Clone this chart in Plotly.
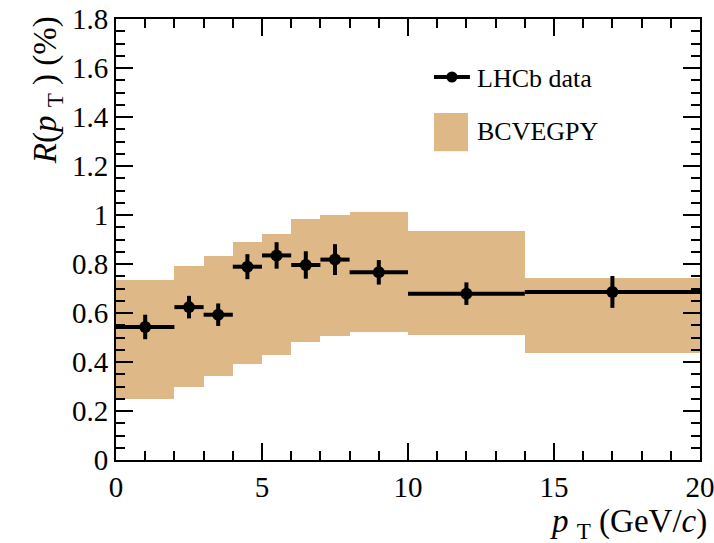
import plotly.graph_objects as go

# Data
bin_lo = [0, 2, 3, 4, 5, 6, 7, 8, 10, 14]
bin_hi = [2, 3, 4, 5, 6, 7, 8, 10, 14, 20]
pt_center = [1, 2.5, 3.5, 4.5, 5.5, 6.5, 7.5, 9, 12, 17]
r_data = [0.543, 0.624, 0.593, 0.789, 0.835, 0.796, 0.818, 0.766, 0.679, 0.686]
r_err = [0.050, 0.046, 0.046, 0.051, 0.054, 0.056, 0.063, 0.050, 0.046, 0.065]
band_low = [0.250, 0.299, 0.343, 0.390, 0.430, 0.480, 0.506, 0.522, 0.510, 0.435]
band_high = [0.735, 0.792, 0.834, 0.888, 0.924, 0.984, 1.002, 1.012, 0.935, 0.741]

TAN = "#DEB887"
FONT = "Liberation Serif"

band_center = [(a + b) / 2 for a, b in zip(bin_lo, bin_hi)]
band_width = [b - a for a, b in zip(bin_lo, bin_hi)]
band_height = [h - l for h, l in zip(band_high, band_low)]
x_half = [(b - a) / 2 for a, b in zip(bin_lo, bin_hi)]

fig = go.Figure()
fig.add_trace(go.Bar(
    x=band_center, y=band_height, base=band_low, width=band_width,
    marker=dict(color=TAN, line=dict(width=0)), name="BCVEGPY", showlegend=False,
))
fig.add_trace(go.Scatter(
    x=pt_center, y=r_data, mode="markers", name="LHCb data", showlegend=False,
    marker=dict(color="black", size=12),
    error_x=dict(type="data", array=x_half, thickness=4, width=0, color="black"),
    error_y=dict(type="data", array=r_err, thickness=4, width=0, color="black"),
))

axis_common = dict(
    showline=True, linecolor="black", linewidth=2, mirror="ticks",
    ticks="inside", ticklen=17, tickwidth=2, tickcolor="black",
    showgrid=False, zeroline=False, automargin=False,
    ticklabeloverflow="allow",
    tickfont=dict(family=FONT, size=29, color="black", weight="normal"),
)
fig.update_xaxes(range=[0, 20], dtick=5, tick0=0,
                 minor=dict(dtick=1, ticks="inside", ticklen=9, tickwidth=2, tickcolor="black"),
                 **axis_common)
fig.update_yaxes(range=[0, 1.8], dtick=0.2, tick0=0,
                 minor=dict(dtick=0.05, ticks="inside", ticklen=9, tickwidth=2, tickcolor="black"),
                 **axis_common)

# Axis titles (ROOT style, aligned to the axis ends)
fig.add_annotation(xref="paper", yref="paper", x=1.016, y=-0.092,
                   xanchor="right", yanchor="top", showarrow=False,
                   text="<i>p</i> <sub>T</sub> (GeV/<i>c</i>)",
                   font=dict(family=FONT, size=33, color="black"))
fig.add_annotation(xref="paper", yref="paper", x=-0.117, y=1.01,
                   xanchor="center", yanchor="top", showarrow=False, textangle=-90,
                   text="<i>R</i>(<i>p</i> <sub>T</sub> ) (%)",
                   font=dict(family=FONT, size=33, color="black"))

# Legend (drawn manually)
fig.add_shape(type="line", xref="paper", yref="paper", x0=0.5445, x1=0.606, y0=0.8685, y1=0.8685,
              line=dict(color="black", width=4))
fig.add_shape(type="circle", xref="paper", yref="paper", x0=0.5657, x1=0.5847, y0=0.856, y1=0.881,
              fillcolor="black", line=dict(color="black", width=0))
fig.add_annotation(xref="paper", yref="paper", x=0.6147, y=0.866, xanchor="left", yanchor="middle",
                   showarrow=False, text="LHCb data", font=dict(family=FONT, size=26, color="black"))
fig.add_shape(type="rect", xref="paper", yref="paper", x0=0.5445, x1=0.6027, y0=0.70, y1=0.787,
              fillcolor=TAN, line=dict(width=0))
fig.add_annotation(xref="paper", yref="paper", x=0.6147, y=0.745, xanchor="left", yanchor="middle",
                   showarrow=False, text="BCVEGPY", font=dict(family=FONT, size=26, color="black"))

fig.update_layout(
    template="none",
    width=714, height=543,
    margin=dict(l=116, r=14, t=19, b=83),
    paper_bgcolor="white", plot_bgcolor="white",
    bargap=0, showlegend=False,
    font=dict(family=FONT, color="black"),
)

fig.write_html("out.html")
